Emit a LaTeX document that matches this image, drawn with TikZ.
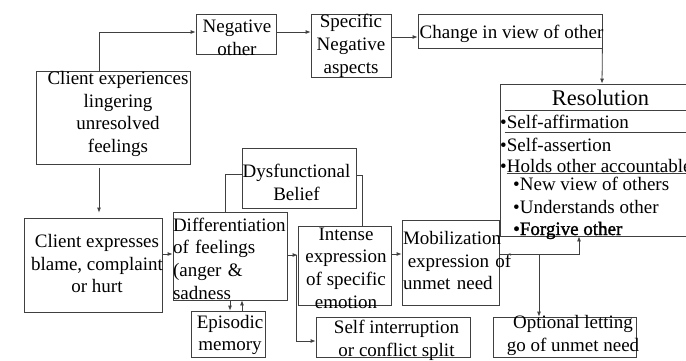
\documentclass[tikz,border=0pt]{standalone}
\usepackage{fontspec}
\setmainfont{Liberation Serif}
\newfontfamily\fakebold[FakeBold=1.5]{Liberation Serif}
\usetikzlibrary{arrows.meta}

\begin{document}
\begin{tikzpicture}[x=1pt, y=-1pt,
    box/.style={draw=black!75, line width=0.8pt, inner sep=0pt},
    txt/.style={align=center, inner sep=0pt, font=\fontsize{19}{22.7}\selectfont},
    item/.style={anchor=base west, inner sep=0pt, font=\fontsize{19}{22.7}\selectfont},
    arr/.style={draw=black!75, line width=0.8pt, -{Latex[length=5pt,width=4pt]}},
    link/.style={draw=black!75, line width=0.8pt}]
    \useasboundingbox (0,0) rectangle (686,360);

    % top row
    \node[box, minimum width=154pt, minimum height=93pt,
      label={[txt, xshift=5pt, yshift=3.5pt]center:Client experiences\\lingering\\unresolved\\feelings}] (exper) at (113,117.5) {};
    \node[box, minimum width=80pt, minimum height=40pt,
      label={[txt, xshift=1pt, yshift=-3.5pt]center:Negative\\other}] (negother) at (236,34) {};
    \node[box, minimum width=80pt, minimum height=63pt,
      label={[txt, yshift=-0.5pt]center:Specific\\Negative\\aspects}] (specneg) at (351,45.5) {};
    \node[box, minimum width=184pt, minimum height=34pt,
      label={[txt, xshift=1.5pt, yshift=-3pt]center:Change in view of other}] (change) at (510,31) {};

    % resolution
    \node[box, minimum width=204pt, minimum height=152pt] (resol) at (602,160) {};
    \node[anchor=base, inner sep=0pt, font=\fontsize{22.4}{26}\selectfont] (restitle) at (600.5,105) {Resolution};
    \node[item] (affirm) at (500,128) {\textbullet Self-affirmation};
    \node[item] (assert) at (500,151) {\textbullet Self-assertion};
    \node[item] (holds) at (500,172) {\textbullet Holds other accountable};
    \node[item] (newview) at (513,190) {\textbullet New view of others};
    \node[item] (understands) at (513,213) {\textbullet Understands other};
    \node[item] (forgive) at (513,235) {\fakebold\textbullet Forgive other};
    \draw[link] (resol.north west) ++(5,27) -- ++(200,0);
    \draw[link] (resol.north west) ++(5,49) -- ++(200,0);
    \draw[link] (resol.north west) ++(7,89.5) -- ++(200,0);

    % bottom row
    \node[box, minimum width=114pt, minimum height=60pt,
      label={[txt, xshift=-2.5pt, yshift=-4.5pt]center:Dysfunctional\\Belief}] (dysf) at (299,178) {};
    \node[box, minimum width=138pt, minimum height=94pt,
      label={[txt, xshift=4pt, yshift=1.5pt]center:Client expresses\\blame, complaint\\or hurt}] (expresses) at (93,265) {};
    \node[box, minimum width=114pt, minimum height=88pt,
      label={[txt, text width=114pt, align=left, yshift=-2.5pt]center:\mbox{Differentiation}\\of feelings\\(anger \&\\sadness}] (diff) at (230,256) {};
    \node[box, minimum width=74pt, minimum height=46pt,
      label={[txt, xshift=2pt, yshift=-1pt]center:Episodic\\memory}] (episodic) at (228,334) {};
    \node[box, minimum width=93pt, minimum height=79pt,
      label={[txt, xshift=1.5pt, yshift=-2.5pt]center:Intense\\expression\\of specific\\emotion}] (intense) at (344.5,265.5) {};
    \node[box, minimum width=154pt, minimum height=40pt,
      label={[txt, xshift=3.5pt, yshift=-3.5pt]center:Self interruption\\or conflict split}] (selfint) at (393,337) {};
    \node[box, minimum width=97pt, minimum height=85pt,
      label={[txt, text width=97pt, align=left, xshift=1pt, yshift=2pt]center:\mbox{Mobilization}\\\mbox{\hspace*{0.25em}expression of}\\unmet need}] (mobil) at (450.5,262.5) {};
    \node[box, minimum width=143pt, minimum height=40pt,
      label={[txt, xshift=8.5pt, yshift=1.5pt]center:Optional letting\\go of unmet need}] (optional) at (564.5,337) {};

    % connectors
    \draw[arr] ([xshift=-14pt]exper.north) |- ([yshift=2pt]negother.west);
    \draw[arr] ([yshift=2pt]negother.east) -- ([yshift=2pt]negother.east -| specneg.west);
    \draw[arr] ([yshift=-6pt]change.west -| specneg.east) -- ([yshift=-6pt]change.west);
    \draw[arr] (change.south east) -- (resol.north);
    \draw[arr, shorten <=4pt, shorten >=5pt] ([xshift=-14pt]exper.south) -- ([xshift=-14pt]exper.south |- expresses.north);
    \draw[arr] ([yshift=11pt]expresses.east) -- ([yshift=11pt]expresses.east -| diff.west);
    \draw[link] ([xshift=-5pt]diff.north) |- ([yshift=4pt]dysf.west);
    \draw[link] ([yshift=3pt]dysf.east) -| ([xshift=17.5pt]intense.north);
    \draw[arr] ([yshift=1pt]diff.east) -- ([yshift=1pt]diff.east -| intense.west);
    \draw[arr] ([xshift=-1pt,yshift=1pt]diff.east -| intense.west) |- ([yshift=-4pt]selfint.west);
    \draw[arr] (diff.south) -- (diff.south |- episodic.north);
    \draw[arr] ([xshift=12pt]diff.south |- episodic.north) -- ([xshift=12pt]diff.south);
    \draw[arr] ([yshift=11.5pt]intense.east) -- ([yshift=11.5pt]intense.east -| mobil.west);
    \draw[arr] ([yshift=8.5pt]mobil.east) -| ([xshift=-23pt]resol.south);
    \draw[arr] ([xshift=-25.5pt,yshift=8.5pt]optional.north |- mobil.east) -- ([xshift=-25.5pt]optional.north);
\end{tikzpicture}
\end{document}
